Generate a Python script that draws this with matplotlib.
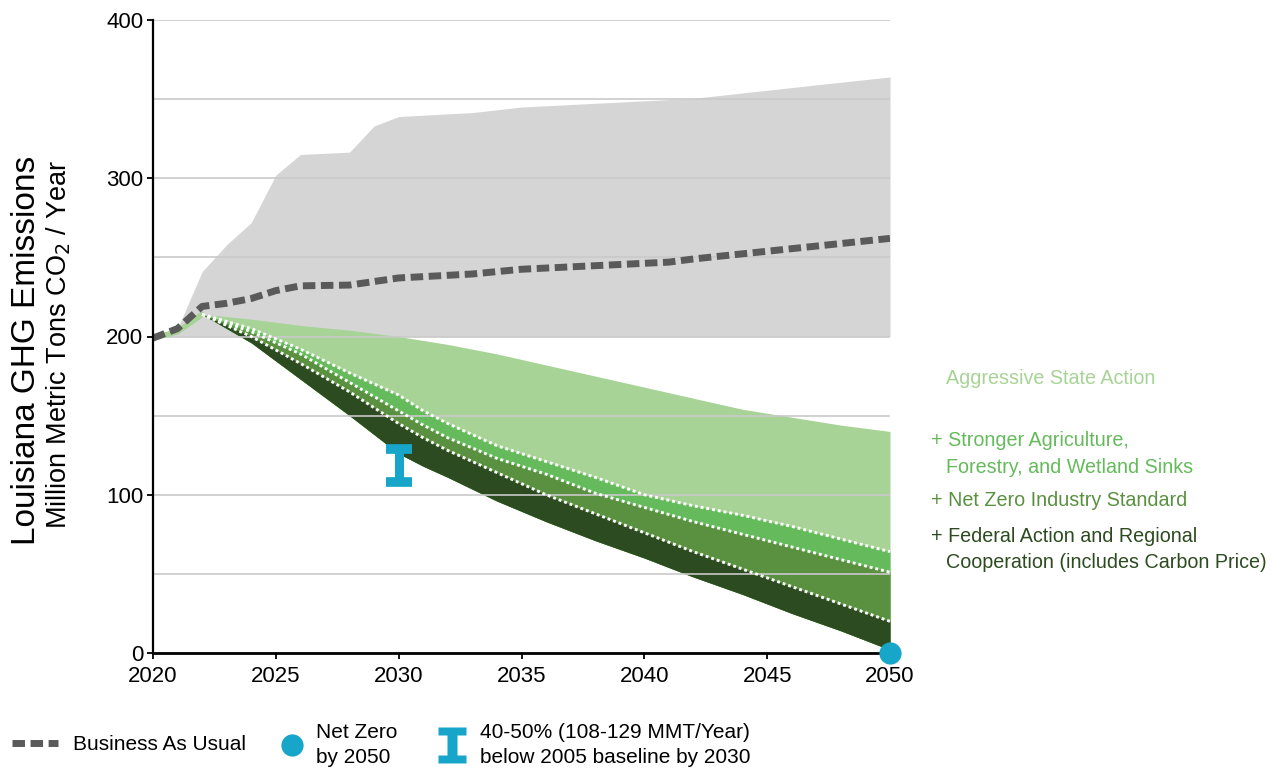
import matplotlib.pyplot as plt
import numpy as np
from matplotlib.lines import Line2D
from matplotlib.path import Path
from matplotlib.ticker import MultipleLocator

plt.rcParams['font.family'] = ['Liberation Sans', 'DejaVu Sans']

# Business-as-usual range (gray band) and its central estimate (dashed line)
RANGE_YEARS = [2020, 2021, 2022, 2023, 2024, 2025, 2026, 2028, 2029, 2030, 2033, 2035, 2042, 2047, 2050]
RANGE_HIGH = [200, 205, 241, 258, 272, 302, 315, 316.5, 333, 339, 341.5, 345, 350.5, 359, 364]
RANGE_LOW = 200

BAU_YEARS = [2020, 2021, 2022, 2023, 2024, 2025, 2026, 2028, 2030, 2033, 2035, 2041, 2042, 2050]
BAU = [199, 205, 219, 221, 224, 229, 232, 232.5, 237, 239.5, 242.5, 247, 249, 262]

# Policy scenarios, band edges from top to bottom
YEARS = [2020, 2021, 2022, 2024, 2026, 2028, 2030, 2031, 2032, 2034, 2036, 2038, 2040, 2042, 2044, 2046, 2048, 2050]
AGGRESSIVE = [199, 203, 214, 211, 207, 204, 200, 197.5, 195, 189, 182, 175, 168, 161, 154, 149, 144, 140]
SINKS = [199, 203, 214, 205, 192, 177, 163, 153, 145, 131, 121, 111, 100, 93, 87, 80, 72, 64]
INDUSTRY = [199, 203, 214, 203, 189, 171, 153, 144, 136, 123, 113, 101, 92, 83, 75, 67, 59, 51]
FEDERAL = [199, 203, 214, 200, 183, 165, 145, 136, 128, 114, 100, 88, 76, 64, 53, 42, 31, 20]
FLOOR = [199, 203, 214, 196, 173, 150, 126, 118, 111, 96, 83, 71, 60, 48, 37, 25, 14, 2]
HISTORY_END = 2022

# Targets
TARGET_YEAR = 2030
TARGET_LOW, TARGET_HIGH = 108, 129
NET_ZERO_YEAR, NET_ZERO_VALUE = 2050, 0

GRAY = '#d5d5d5'
BAU_COLOR = '#5a5a5a'
TEAL = '#17a6c9'
BAND_COLORS = ['#a7d496', '#65bb5c', '#5a9140', '#2d4b20']
LABEL_COLORS = ['#a7d496', '#65bb5c', '#5a9140', '#2d4b20']

fig = plt.figure(figsize=(12.82, 7.72), dpi=100)
ax = fig.add_axes([153 / 1282, 1 - 653 / 772, 737 / 1282, 633 / 772])

# gray BAU range
ax.fill_between(RANGE_YEARS, RANGE_LOW, RANGE_HIGH, color=GRAY, lw=0, zorder=1)

# stacked scenario bands
years = np.array(YEARS)
edges = [AGGRESSIVE, SINKS, INDUSTRY, FEDERAL]
for edge, color in zip(edges, BAND_COLORS):
    ax.fill_between(years, edge, FLOOR, color=color, lw=0, zorder=1.2)

# history line
hist = years <= HISTORY_END
ax.plot(years[hist], np.array(AGGRESSIVE)[hist], color=BAND_COLORS[0], lw=4,
        solid_capstyle='round', zorder=3)

# white dotted edges between bands
fut = years >= HISTORY_END
for edge in [SINKS, INDUSTRY, FEDERAL]:
    ax.plot(years[fut], np.array(edge)[fut], color='white', lw=2.1,
            ls=(0, (1.0, 1.0)), zorder=3.2)

# business as usual
ax.plot(BAU_YEARS, BAU, color=BAU_COLOR, lw=5, ls=(0, (1.8, 0.8)),
        dash_capstyle='butt', zorder=4)

# 2030 target range
ax.errorbar([TARGET_YEAR], [(TARGET_LOW + TARGET_HIGH) / 2],
            yerr=[[(TARGET_HIGH - TARGET_LOW) / 2]], fmt='none', ecolor=TEAL,
            elinewidth=6.5, capsize=9.6, capthick=7, zorder=5)

# net zero point
ax.plot([NET_ZERO_YEAR], [NET_ZERO_VALUE], 'o', color=TEAL, ms=16, mec='none',
        clip_on=False, zorder=8)

# axes styling
ax.set_xlim(2020, 2050)
ax.set_ylim(0, 400)
ax.set_xticks(range(2020, 2051, 5))
ax.yaxis.set_major_locator(MultipleLocator(100))
ax.yaxis.set_minor_locator(MultipleLocator(50))
ax.set_axisbelow(False)
ax.grid(True, axis='y', which='both', color='#c9c9c9', lw=1.2)
ax.tick_params(axis='y', which='minor', length=0)
ax.tick_params(axis='both', which='major', labelsize=16, length=4, width=1.3,
               colors='black')
ax.tick_params(axis='y', which='major', pad=3)
ax.tick_params(axis='x', which='major', pad=5)
for side in ['top', 'right']:
    ax.spines[side].set_visible(False)
ax.spines['left'].set_linewidth(1.6)
ax.spines['bottom'].set_linewidth(2)
ax.spines['left'].set_zorder(7)
ax.spines['bottom'].set_zorder(7)

# y labels
fig.text(27 / 1282, 1 - 350 / 772, 'Louisiana GHG Emissions', rotation=90,
         fontsize=24, ha='center', va='center')
fig.text(59 / 1282, 1 - 345 / 772, 'Million Metric Tons CO$_2$ / Year', rotation=90,
         fontsize=19.5, ha='center', va='center')

# scenario labels on the right
right_labels = [
    ('Aggressive State Action', 946, 379, LABEL_COLORS[0]),
    ('+ Stronger Agriculture,', 931, 440, LABEL_COLORS[1]),
    ('Forestry, and Wetland Sinks', 946, 467, LABEL_COLORS[1]),
    ('+ Net Zero Industry Standard', 931, 501, LABEL_COLORS[2]),
    ('+ Federal Action and Regional', 931, 537, LABEL_COLORS[3]),
    ('Cooperation (includes Carbon Price)', 946, 563, LABEL_COLORS[3]),
]
for text, px, py, color in right_labels:
    fig.text(px / 1282, 1 - py / 772, text, color=color, fontsize=14.2,
             ha='left', va='center')

# bottom legend
ibeam = Path([(-0.39, 0.5), (0.39, 0.5), (0.39, 0.28), (0.125, 0.28),
              (0.125, -0.28), (0.39, -0.28), (0.39, -0.5), (-0.39, -0.5),
              (-0.39, -0.28), (-0.125, -0.28), (-0.125, 0.28), (-0.39, 0.28),
              (-0.39, 0.5)], closed=True)
legend_items = [
    (Line2D([], [], color=BAU_COLOR, lw=5, ls=(0, (1.8, 0.8)), dash_capstyle='butt'),
     'Business As Usual', 12, 2.2, 0.72),
    (Line2D([], [], color=TEAL, marker='o', ls='none', ms=16, mec='none'),
     'Net Zero\nby 2050', 280, 1.15, 0.58),
    (Line2D([], [], color=TEAL, marker=ibeam, ls='none', ms=26, mec='none'),
     '40-50% (108-129 MMT/Year)\nbelow 2005 baseline by 2030', 438, 1.35, 0.67),
]
for handle, label, px, hl, htp in legend_items:
    leg = fig.legend([handle], [label], loc='center left',
                     bbox_to_anchor=(px / 1282, 1 - 745 / 772), frameon=False,
                     fontsize=15, handlelength=hl, handletextpad=htp,
                     borderpad=0, borderaxespad=0, numpoints=1)
    for t in leg.get_texts():
        t.set_linespacing(1.45)

fig.savefig('out.png', dpi=100)
